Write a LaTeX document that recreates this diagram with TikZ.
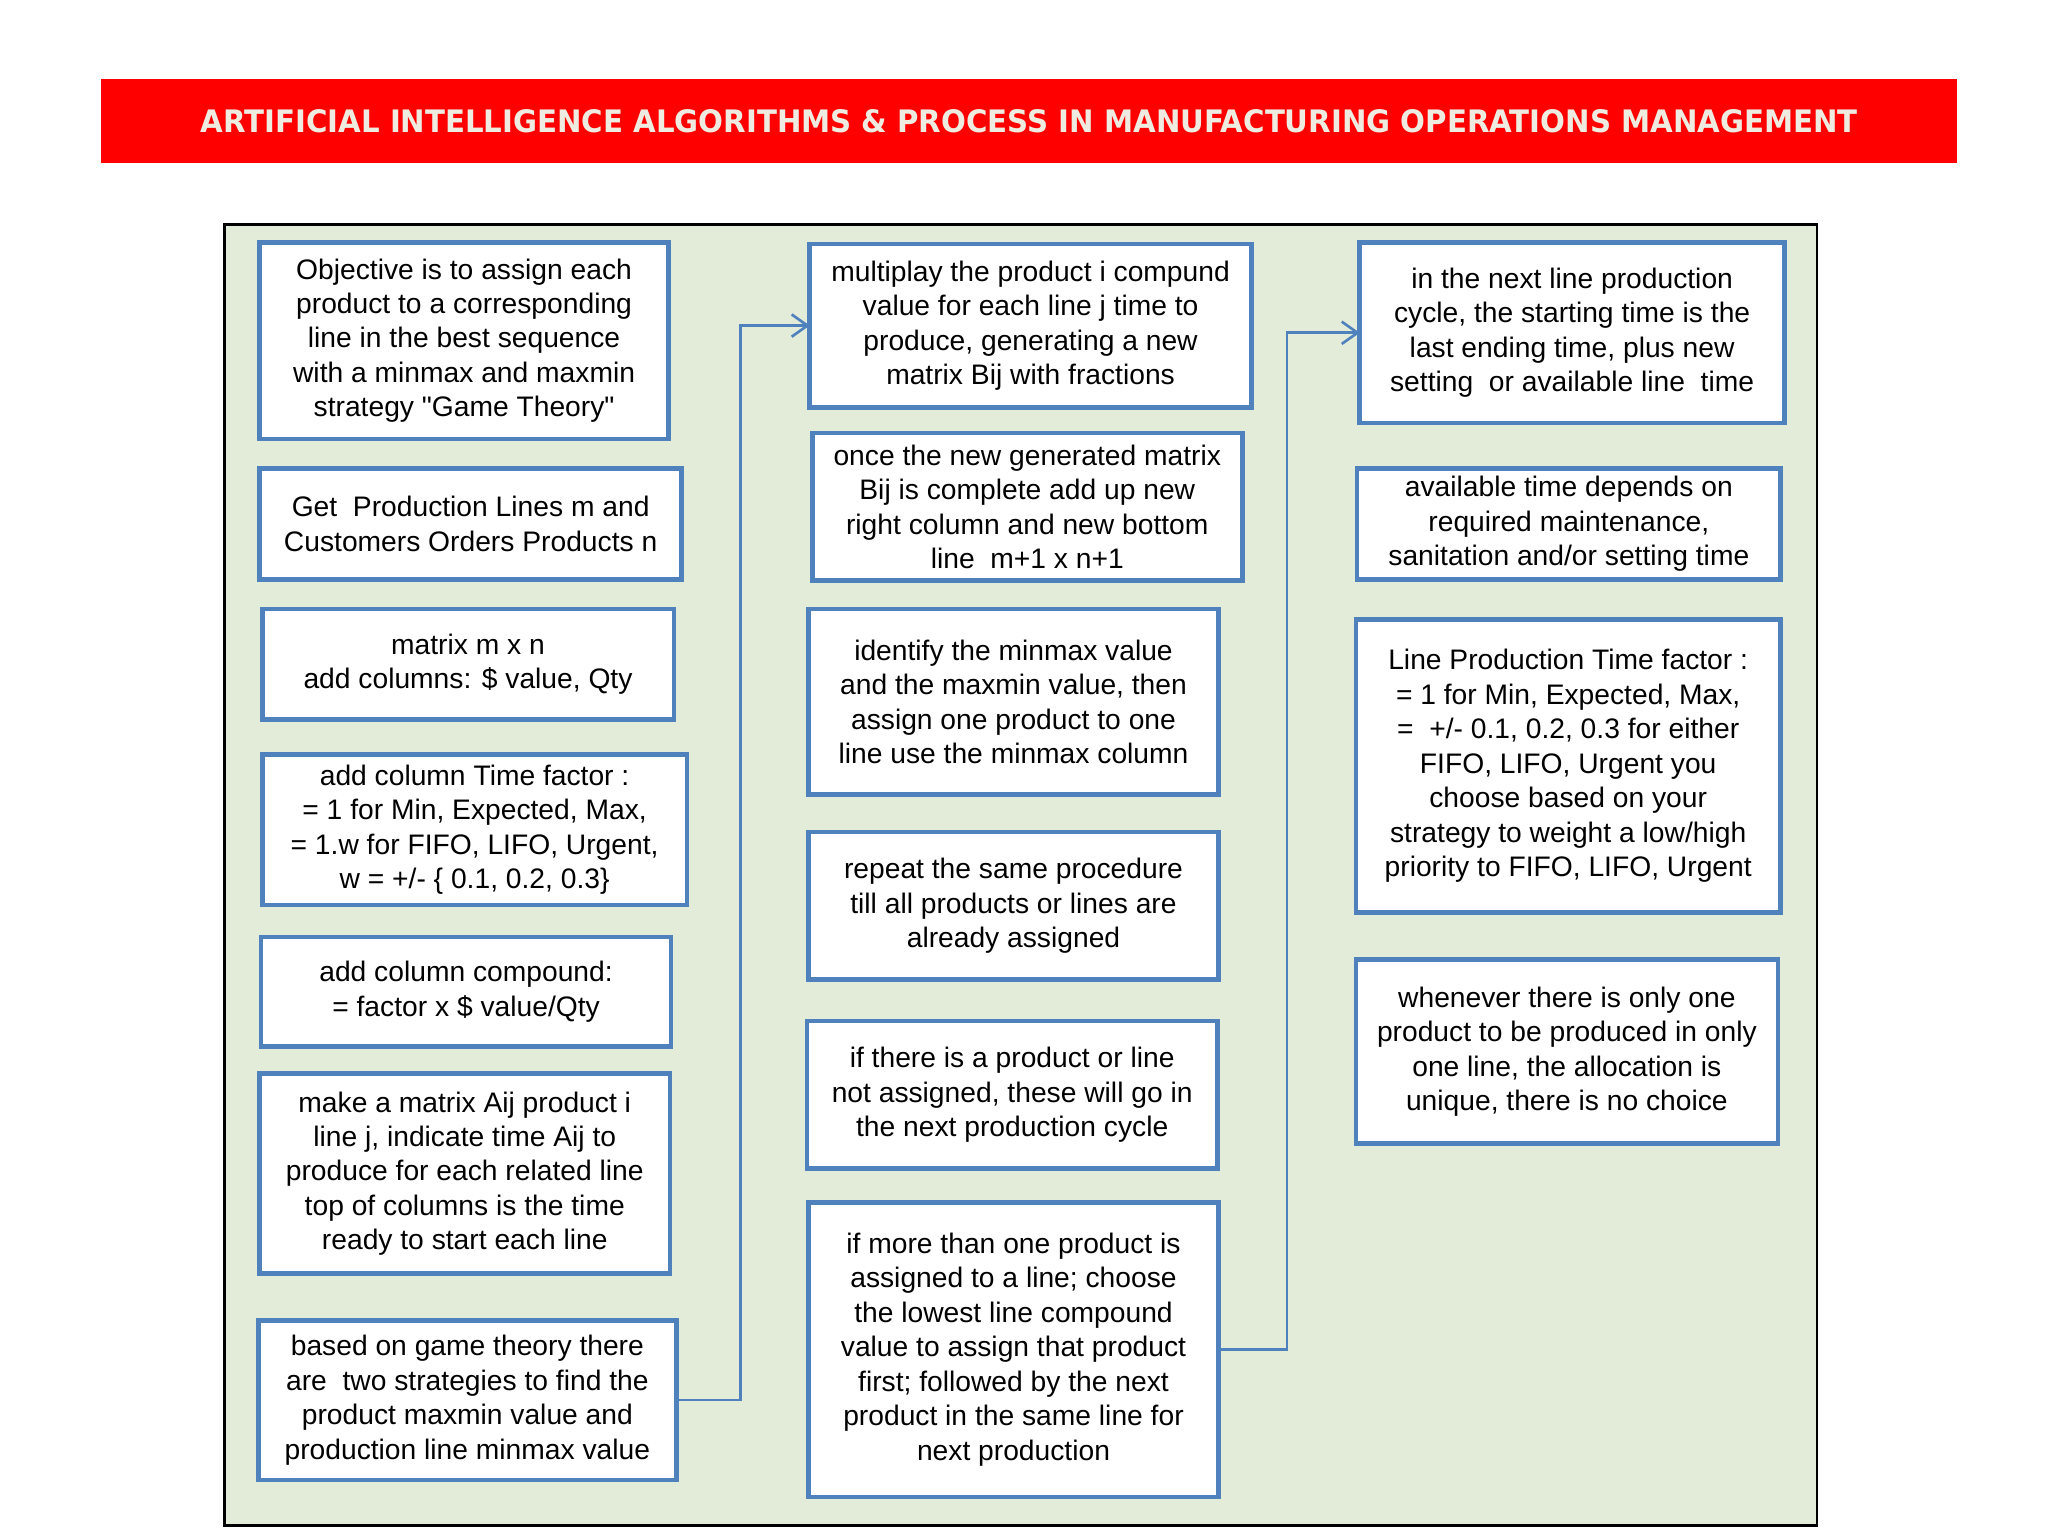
\documentclass[tikz,border=0pt]{standalone}
\usepackage{fontspec}
\setmainfont{Liberation Sans}
\newfontfamily\titlefont{DejaVu Sans}
\usetikzlibrary{arrows.meta,positioning}
\definecolor{boxblue}{RGB}{79,129,189}
\definecolor{bannerred}{RGB}{255,0,0}
\definecolor{titlecream}{RGB}{238,236,225}
\definecolor{panelgreen}{RGB}{226,236,217}

\begin{document}
\begin{tikzpicture}[x=1pt,y=1pt,>={Straight Barb[length=12pt,width=17pt]},
		procbox/.style={draw=boxblue,line width=3.5pt,fill=white,align=center,outer sep=0pt,inner sep=2pt,
			font=\fontsize{21.5pt}{26.25pt}\selectfont},
		link/.style={->,draw=boxblue,line width=2pt}]
		\useasboundingbox (0,0) rectangle (1560,1170);
		% title banner
		\node[fill=bannerred,text=titlecream,minimum width=1414pt,minimum height=64pt,inner sep=0pt] (banner) at (784,1078)
			{\resizebox{1262pt}{17.5pt}{\titlefont\bfseries ARTIFICIAL INTELLIGENCE ALGORITHMS \& PROCESS IN MANUFACTURING OPERATIONS MANAGEMENT}};
		% green panel
		\draw[black,line width=2pt,fill=panelgreen] (171,8) rectangle (1384,999);
		% left column
		\node[procbox,minimum width=311.5pt,minimum height=149.5pt] (obj) at (353.5,910.5)
			{Objective is to assign each\\product to a corresponding\\line in the best sequence\\with a minmax and maxmin\\strategy \textquotedbl Game Theory\textquotedbl};
		\node[procbox,minimum width=321.5pt,minimum height=84.5pt] [below=22.5pt of obj,xshift=5pt] (lines)
			{Get\ \ Production Lines m and\\Customers Orders Products n};
		\node[procbox,minimum width=313.5pt,minimum height=84.5pt] [below=22.5pt of lines,xshift=-2pt] (mxn)
			{matrix m x n\\add columns: \$ value, Qty};
		\node[procbox,minimum width=323.5pt,minimum height=114.5pt] [below=26.5pt of mxn,xshift=5pt] (tfac)
			{add column Time factor :\\= 1 for Min, Expected, Max,\\= 1.w for FIFO, LIFO, Urgent,\\w = +/- \{ 0.1, 0.2, 0.3\}};
		\node[procbox,minimum width=312.5pt,minimum height=83.5pt] [below=24.5pt of tfac,xshift=-6.5pt] (comp)
			{add column compound:\\= factor x \$ value/Qty};
		\node[procbox,minimum width=312.5pt,minimum height=152.5pt] [below=20.5pt of comp,xshift=-1pt] (aij)
			{make a matrix Aij product i\\line j, indicate time Aij to\\produce for each related line\\top of columns is the time\\ready to start each line};
		\node[procbox,minimum width=318.5pt,minimum height=121.5pt] [below=35.5pt of aij,xshift=2pt] (game)
			{based on game theory there\\are\ \ two strategies to find the\\product maxmin value and\\production line minmax value};
		% middle column
		\node[procbox,minimum width=336.5pt,minimum height=124.5pt] (bij) at (785,922)
			{multiplay the product i compund\\value for each line j time to\\produce, generating a new\\matrix Bij with fractions};
		\node[procbox,minimum width=327.5pt,minimum height=112.5pt] [below=19.5pt of bij,xshift=-2.5pt] (newmat)
			{once the new generated matrix\\Bij is complete add up new\\right column and new bottom\\line\ \ m+1 x n+1};
		\node[procbox,minimum width=312.5pt,minimum height=141.5pt] [below=21.5pt of newmat,xshift=-10.5pt] (minmax)
			{identify the minmax value\\and the maxmin value, then\\assign one product to one\\line use the minmax column};
		\node[procbox,minimum width=312.5pt,minimum height=112.5pt] [below=28.5pt of minmax] (again)
			{repeat the same procedure\\till all products or lines are\\already assigned};
		\node[procbox,minimum width=312.5pt,minimum height=112.5pt] [below=31.5pt of again,xshift=-1pt] (notass)
			{if there is a product or line\\not assigned, these will go in\\the next production cycle};
		\node[procbox,minimum width=312.5pt,minimum height=224.5pt] [below=25.5pt of notass,xshift=1pt] (morethan)
			{if more than one product is\\assigned to a line; choose\\the lowest line compound\\value to assign that product\\first; followed by the next\\product in the same line for\\next production};
		% right column
		\node[procbox,minimum width=323.5pt,minimum height=137.5pt] (nextcyc) at (1197.5,916.5)
			{in the next line production\\cycle, the starting time is the\\last ending time, plus new\\setting\ \ or available line\ \ time};
		\node[procbox,minimum width=322.5pt,minimum height=84.5pt] [below=34.5pt of nextcyc,xshift=-2.5pt] (avail)
			{available time depends on\\required maintenance,\\sanitation and/or setting time};
		\node[procbox,minimum width=323.5pt,minimum height=223.5pt] [below=30.5pt of avail,xshift=-0.5pt] (lptf)
			{Line Production Time factor :\\= 1 for Min, Expected, Max,\\=\ \ +/- 0.1, 0.2, 0.3 for either\\FIFO, LIFO, Urgent you\\choose based on your\\strategy to weight a low/high\\priority to FIFO, LIFO, Urgent};
		\node[procbox,minimum width=321.5pt,minimum height=140.5pt] [below=35.5pt of lptf,xshift=-1pt] (unique)
			{whenever there is only one\\product to be produced in only\\one line, the allocation is\\unique, there is no choice};
		% connectors
		\draw[link] (game.east) -- ++(49,0) |- (bij.west);
		\draw[link] (morethan.east) -- ++(52,0) |- (nextcyc.west);
	\end{tikzpicture}
\end{document}
